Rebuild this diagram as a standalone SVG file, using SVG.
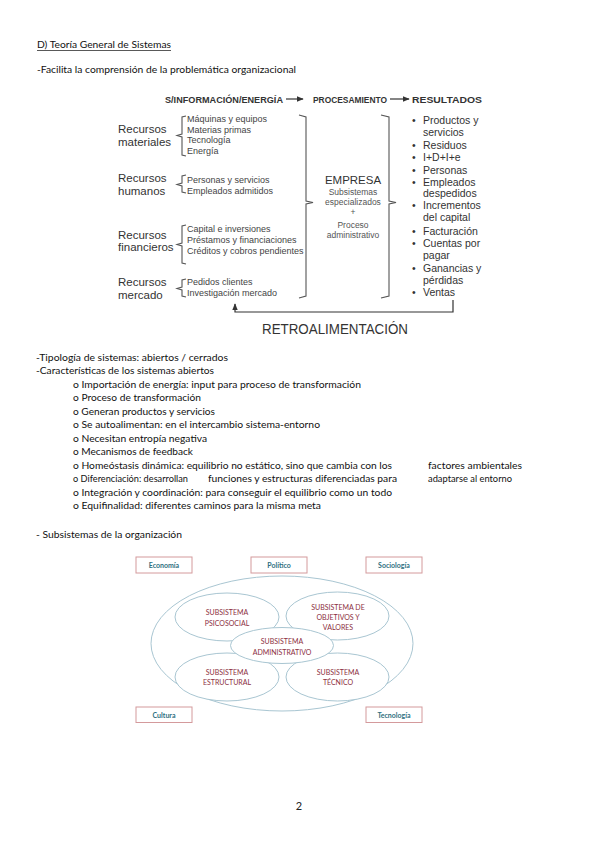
<svg xmlns="http://www.w3.org/2000/svg" width="599" height="848" viewBox="0 0 599 848">
<defs>
<style>
.doc{font-family:Lato,"Liberation Sans",sans-serif;font-size:10px;fill:#111}
.hd{font-family:"Liberation Sans",Arial,sans-serif;font-weight:bold;font-size:9px;fill:#333}
.rl{font-family:"Liberation Sans",Arial,sans-serif;font-size:11.5px;fill:#333}
.it{font-family:"Liberation Sans",Arial,sans-serif;font-size:9px;fill:#444}
.bu{font-family:"Liberation Sans",Arial,sans-serif;font-size:10.5px;fill:#333}
.em{font-family:"Liberation Sans",Arial,sans-serif;font-size:8.5px;fill:#555;text-anchor:middle}
.ln{fill:none;stroke:#555;stroke-width:1.1}
.box{fill:#fff;stroke:#d49a9c;stroke-width:1}
.bt{font-family:Lato,"Liberation Sans",sans-serif;font-weight:bold;font-size:7px;fill:#2f6f80;text-anchor:middle}
.el{fill:#fff;stroke:#a9c6d2;stroke-width:1}
.st{font-family:Lato,"Liberation Sans",sans-serif;font-size:7px;fill:#8c2f3e;text-anchor:middle}
</style>
<marker id="ah" viewBox="0 0 10 10" refX="9" refY="5" markerWidth="6" markerHeight="6" orient="auto-start-reverse">
<path d="M0,1 L10,5 L0,9 Z" fill="#333"/>
</marker>
</defs>
<rect width="599" height="848" fill="#fff"/>

<!-- Document text -->
<g id="title">
<text class="doc" x="37" y="48" textLength="134" lengthAdjust="spacingAndGlyphs">D) Teoría General de Sistemas</text>
<line x1="37" y1="50.5" x2="171" y2="50.5" stroke="#111" stroke-width="0.7"/>
<text class="doc" x="37" y="73" textLength="259" lengthAdjust="spacingAndGlyphs">-Facilita la comprensión de la problemática organizacional</text>
</g>

<!-- Top diagram -->
<g id="header">
<text class="hd" x="165" y="102.5" textLength="118" lengthAdjust="spacingAndGlyphs">S/INFORMACIÓN/ENERGÍA</text>
<text class="hd" x="313" y="102.5" textLength="74" lengthAdjust="spacingAndGlyphs">PROCESAMIENTO</text>
<text class="hd" x="412" y="102.5" textLength="70" lengthAdjust="spacingAndGlyphs">RESULTADOS</text>
</g>

<g id="connectors">
<line x1="286" y1="99" x2="303" y2="99" stroke="#333" stroke-width="1.2" marker-end="url(#ah)"/>
<line x1="390" y1="99" x2="409" y2="99" stroke="#333" stroke-width="1.2" marker-end="url(#ah)"/>
<!-- input brackets -->
<path class="ln" d="M186,116 L182,117 L182,134 L177,135.5 L182,137 L182,155 L186,156"/>
<path class="ln" d="M186,175 L182,176 L182,183 L177,184.5 L182,186 L182,192 L186,193"/>
<path class="ln" d="M186,225 L182,226 L182,243 L177,244.5 L182,246 L182,263 L186,264"/>
<path class="ln" d="M186,279 L182,280 L182,287 L177,288.5 L182,290 L182,296 L186,297"/>
<!-- big brace -->
<path class="ln" d="M299,115 L306,117 L306,201 L313,202.5 L306,204 L306,296 L299,298"/>
<!-- empresa brace -->
<path class="ln" d="M381,115 L389,117 L389,201 L396,202.5 L389,204 L389,296 L381,298"/>
<!-- feedback -->
<path d="M453,300 L453,312 L235,312 L235,304" fill="none" stroke="#333" stroke-width="1.2" marker-end="url(#ah)"/>
</g>

<g id="recursos-materiales">
<text class="rl" x="118" y="133">Recursos</text>
<text class="rl" x="118" y="146">materiales</text>
<text class="it" x="187" y="122">Máquinas y equipos</text>
<text class="it" x="187" y="132.5">Materias primas</text>
<text class="it" x="187" y="143">Tecnología</text>
<text class="it" x="187" y="153.5">Energía</text>
</g>
<g id="recursos-humanos">
<text class="rl" x="118" y="182">Recursos</text>
<text class="rl" x="118" y="195">humanos</text>
<text class="it" x="187" y="183">Personas y servicios</text>
<text class="it" x="187" y="194">Empleados admitidos</text>
</g>
<g id="recursos-financieros">
<text class="rl" x="118" y="239">Recursos</text>
<text class="rl" x="118" y="251">financieros</text>
<text class="it" x="187" y="232">Capital e inversiones</text>
<text class="it" x="187" y="243">Préstamos y financiaciones</text>
<text class="it" x="187" y="254">Créditos y cobros pendientes</text>
</g>
<g id="recursos-mercado">
<text class="rl" x="118" y="286">Recursos</text>
<text class="rl" x="118" y="299">mercado</text>
<text class="it" x="187" y="285">Pedidos clientes</text>
<text class="it" x="187" y="295.5">Investigación mercado</text>
</g>

<g id="empresa">
<text x="353" y="184" font-family="Liberation Sans,Arial,sans-serif" font-size="11.5" fill="#333" text-anchor="middle">EMPRESA</text>
<text class="em" x="353" y="195">Subsistemas</text>
<text class="em" x="353" y="205">especializados</text>
<text class="em" x="353" y="215">+</text>
<text class="em" x="353" y="228">Proceso</text>
<text class="em" x="353" y="238">administrativo</text>
</g>

<g id="resultados">
<g class="bu">
<text x="412" y="123.5">•</text>
<text x="412" y="148.5">•</text>
<text x="412" y="160.5">•</text>
<text x="412" y="173.5">•</text>
<text x="412" y="185.5">•</text>
<text x="412" y="209">•</text>
<text x="412" y="234.5">•</text>
<text x="412" y="246.5">•</text>
<text x="412" y="271.5">•</text>
<text x="412" y="295.5">•</text>
<text x="423" y="123.5">Productos y</text>
<text x="423" y="135.5">servicios</text>
<text x="423" y="148.5">Residuos</text>
<text x="423" y="160.5">I+D+I+e</text>
<text x="423" y="173.5">Personas</text>
<text x="423" y="185.5">Empleados</text>
<text x="423" y="197">despedidos</text>
<text x="423" y="209">Incrementos</text>
<text x="423" y="221">del capital</text>
<text x="423" y="234.5">Facturación</text>
<text x="423" y="246.5">Cuentas por</text>
<text x="423" y="258.5">pagar</text>
<text x="423" y="271.5">Ganancias y</text>
<text x="423" y="283.5">pérdidas</text>
<text x="423" y="295.5">Ventas</text>
</g>
</g>

<g id="retroalimentacion">
<text x="262" y="333.5" font-family="Liberation Sans,Arial,sans-serif" font-size="14" fill="#333" textLength="146" lengthAdjust="spacingAndGlyphs">RETROALIMENTACIÓN</text>
</g>

<!-- List -->
<g id="list" class="doc">
<text x="36" y="360.5" textLength="192" lengthAdjust="spacingAndGlyphs">-Tipología de sistemas: abiertos / cerrados</text>
<text x="36" y="374" textLength="178" lengthAdjust="spacingAndGlyphs">-Características de los sistemas abiertos</text>
<text x="73" y="387.5" textLength="288" lengthAdjust="spacingAndGlyphs">o Importación de energía: input para proceso de transformación</text>
<text x="73" y="401" textLength="128" lengthAdjust="spacingAndGlyphs">o Proceso de transformación</text>
<text x="73" y="414.5" textLength="142" lengthAdjust="spacingAndGlyphs">o Generan productos y servicios</text>
<text x="73" y="428" textLength="247" lengthAdjust="spacingAndGlyphs">o Se autoalimentan: en el intercambio sistema-entorno</text>
<text x="73" y="441.5" textLength="134" lengthAdjust="spacingAndGlyphs">o Necesitan entropía negativa</text>
<text x="73" y="455" textLength="120" lengthAdjust="spacingAndGlyphs">o Mecanismos de feedback</text>
<text x="73" y="468.5" textLength="319" lengthAdjust="spacingAndGlyphs">o Homeóstasis dinámica: equilibrio no estático, sino que cambia con los</text>
<text x="428" y="468.5" textLength="94" lengthAdjust="spacingAndGlyphs">factores ambientales</text>
<text x="73" y="482" textLength="115" lengthAdjust="spacingAndGlyphs">o Diferenciación: desarrollan</text>
<text x="208" y="482" textLength="189" lengthAdjust="spacingAndGlyphs">funciones y estructuras diferenciadas para</text>
<text x="428" y="482" textLength="84" lengthAdjust="spacingAndGlyphs">adaptarse al entorno</text>
<text x="73" y="495.5" textLength="319" lengthAdjust="spacingAndGlyphs">o Integración y coordinación: para conseguir el equilibrio como un todo</text>
<text x="73" y="509" textLength="248" lengthAdjust="spacingAndGlyphs">o Equifinalidad: diferentes caminos para la misma meta</text>
<text x="36" y="538" textLength="146" lengthAdjust="spacingAndGlyphs">- Subsistemas de la organización</text>
</g>

<!-- Bottom diagram -->
<g id="entorno">
<ellipse class="el" cx="282" cy="643.5" rx="131" ry="67.5"/>
</g>
<g id="sub-psicosocial">
<ellipse class="el" cx="227" cy="617" rx="52" ry="24"/>
<text class="st" x="227" y="614.5">SUBSISTEMA</text>
<text class="st" x="227" y="625.5">PSICOSOCIAL</text>
</g>
<g id="sub-objetivos">
<ellipse class="el" cx="337.5" cy="616" rx="51.5" ry="24"/>
<text class="st" x="338" y="609.5">SUBSISTEMA DE</text>
<text class="st" x="338" y="619.5">OBJETIVOS Y</text>
<text class="st" x="338" y="629.5">VALORES</text>
</g>
<g id="sub-estructural">
<ellipse class="el" cx="227" cy="677" rx="52" ry="24"/>
<text class="st" x="227" y="674.5">SUBSISTEMA</text>
<text class="st" x="227" y="684.5">ESTRUCTURAL</text>
</g>
<g id="sub-tecnico">
<ellipse class="el" cx="337.5" cy="677" rx="51.5" ry="24"/>
<text class="st" x="338" y="674.5">SUBSISTEMA</text>
<text class="st" x="338" y="684.5">TÉCNICO</text>
</g>
<g id="sub-administrativo">
<ellipse class="el" cx="282" cy="645.5" rx="51.5" ry="18"/>
<text class="st" x="282" y="643.5">SUBSISTEMA</text>
<text class="st" x="282" y="654.5">ADMINISTRATIVO</text>
</g>

<g id="economia"><rect class="box" x="136" y="557" width="56" height="16"/><text class="bt" x="164" y="567.5">Economía</text></g>
<g id="politico"><rect class="box" x="251" y="557" width="56" height="16"/><text class="bt" x="279" y="567.5">Político</text></g>
<g id="sociologia"><rect class="box" x="366" y="557" width="56" height="16"/><text class="bt" x="394" y="567.5">Sociología</text></g>
<g id="cultura"><rect class="box" x="136" y="707" width="56" height="15.5"/><text class="bt" x="164" y="717.5">Cultura</text></g>
<g id="tecnologia"><rect class="box" x="366" y="707" width="56" height="15.5"/><text class="bt" x="394" y="717.5">Tecnología</text></g>

<text x="299" y="810" font-family="Lato,Liberation Sans,sans-serif" font-size="11" fill="#222" text-anchor="middle">2</text>
</svg>
